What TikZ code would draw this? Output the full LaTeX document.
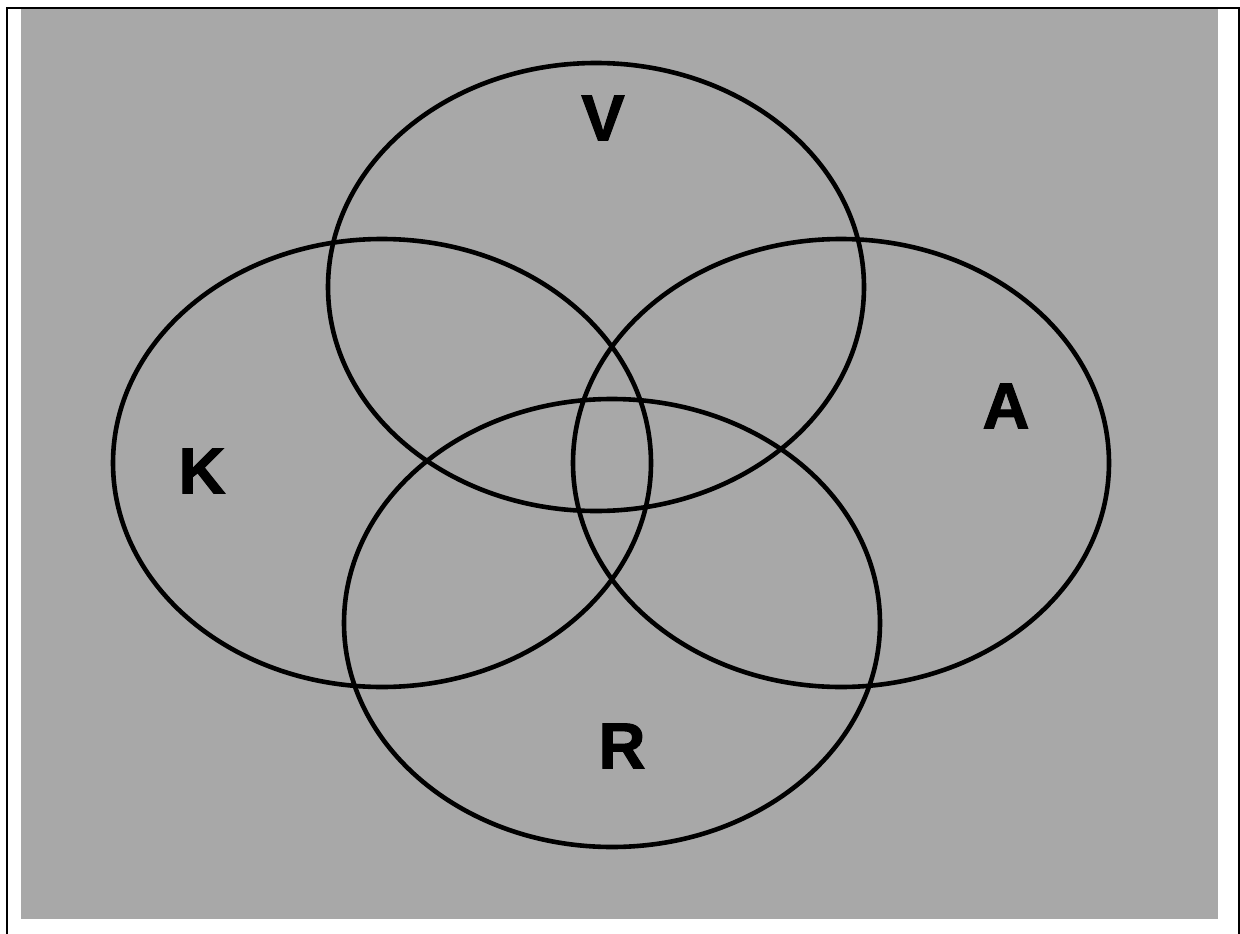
\documentclass[tikz,border=0pt]{standalone}
\usepackage{fontspec}
\setmainfont{Liberation Sans}
\newfontfamily\labelfont{Liberation Sans}[BoldFeatures={FakeBold=1.6}]
\definecolor{bggray}{HTML}{A8A8A8}
\tikzset{
  setline/.style={line width=4.6pt, draw=black},
  setlabel/.style={font=\labelfont\fontsize{65}{65}\selectfont\bfseries, text=black, inner sep=0pt, anchor=center},
  frameline/.style={line width=2.6pt, draw=black}
}
\begin{document}
\begin{tikzpicture}[x=1pt,y=-1pt]
\useasboundingbox (0,0) rectangle (1240,934);
\fill[white] (0,0) rectangle (1240,934);
\fill[bggray] (21,9) rectangle (1218,919);
\draw[frameline] (7,934) -- (7,8) -- (1239,8) -- (1239,934);
% sets
\draw[setline] (596,287) ellipse [x radius=268, y radius=224];
\draw[setline] (382,463) ellipse [x radius=269, y radius=224];
\draw[setline] (841,463) ellipse [x radius=268, y radius=224];
\draw[setline] (612,623) ellipse [x radius=268, y radius=224];
% labels
\node[setlabel] (V) at (603,118) {V};
\node[setlabel] (K) at (202,471) {K};
\node[setlabel] (A) at (1006,406) {A};
\node[setlabel] (R) at (622,746) {R};
\end{tikzpicture}
\end{document}
